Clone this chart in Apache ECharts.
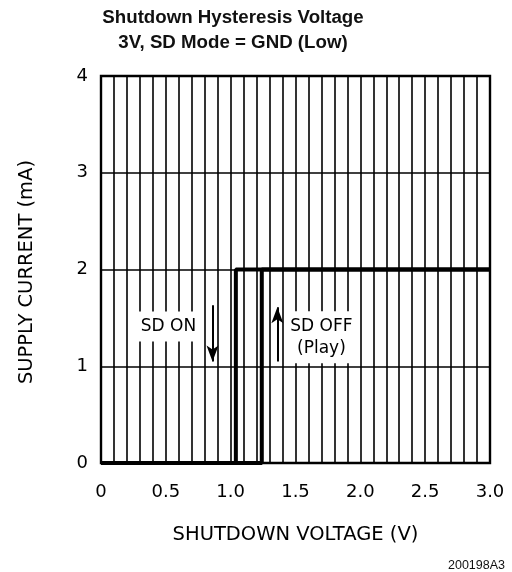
<!DOCTYPE html>
<html>
<head>
<meta charset="utf-8">
<script src="https://cdn.jsdelivr.net/npm/echarts@6/dist/echarts.min.js"></script>
<style>
  html, body { margin: 0; padding: 0; background: #fff; }
  #chart { width: 512px; height: 572px; }
</style>
</head>
<body>
<div id="chart"></div>
<script>
// supply current vs shutdown voltage (hysteresis loop)
var sdOnCurve  = [[3.0, 2], [1.04, 2], [1.04, 0], [0, 0]];     // falling voltage
var sdOffCurve = [[0, 0], [1.24, 0], [1.24, 2], [3.0, 2]];     // rising voltage
var downArrow = [[0.86, 1.63], [0.86, 1.05]];
var upArrow   = [[1.36, 1.05], [1.36, 1.61]];
var notes = [
  { name: 'SD ON', value: [0.52, 1.41] },
  { name: 'SD OFF\n(Play)', value: [1.7, 1.30] }
];
var xTicks = ['0', '0.5', '1.0', '1.5', '2.0', '2.5', '3.0'];
var yTicks = ['0', '1', '2', '3', '4'];

var labelFont = '"DejaVu Sans", sans-serif';
var labelWeight = 'normal';

var chartBox = document.getElementById('chart');
var myChart = echarts.init(chartBox);

var option = {
  animation: false,
  backgroundColor: '#fff',
  title: {
    text: 'Shutdown Hysteresis Voltage\n3V, SD Mode = GND (Low)',
    left: 228,
    top: 0,
    textAlign: 'center',
    textStyle: {
      fontFamily: '"Liberation Sans", Arial, sans-serif',
      fontWeight: 'bold',
      fontSize: 18.7,
      lineHeight: 25,
      color: '#111'
    }
  },
  grid: { left: 101, right: 22, top: 76, bottom: 109, containLabel: false },
  xAxis: {
    type: 'value',
    min: 0, max: 3, interval: 0.5,
    name: 'SHUTDOWN VOLTAGE (V)',
    nameLocation: 'middle',
    nameGap: 62,
    nameTextStyle: { fontFamily: labelFont, fontWeight: labelWeight, fontSize: 19.5, color: '#000' },
    axisLine: { show: false },
    axisTick: { show: false },
    axisLabel: {
      margin: 20,
      fontFamily: labelFont, fontWeight: labelWeight, fontSize: 18, color: '#000',
      formatter: function (v) { return xTicks[Math.round(v * 2)]; }
    },
    splitLine: { show: true, lineStyle: { color: '#000', width: 1.6 } },
    minorTick: { show: false, splitNumber: 5 },
    minorSplitLine: { show: true, lineStyle: { color: '#000', width: 1.6 } }
  },
  yAxis: {
    type: 'value',
    min: 0, max: 4, interval: 1,
    axisLine: { show: false },
    axisTick: { show: false },
    axisLabel: {
      margin: 13,
      fontFamily: labelFont, fontWeight: labelWeight, fontSize: 18, color: '#000',
      formatter: function (v) { return yTicks[v]; }
    },
    splitLine: { show: true, lineStyle: { color: '#000', width: 1.6 } }
  },
  graphic: [
    {
      type: 'rect', silent: true, z: 1,
      shape: { x: 101, y: 76, width: 389, height: 387 },
      style: { fill: 'none', stroke: '#000', lineWidth: 2.4 }
    },
    {
      type: 'text', silent: true,
      x: 27, y: 272, rotation: Math.PI / 2,
      style: {
        text: 'SUPPLY CURRENT (mA)',
        x: 0, y: 0,
        textAlign: 'center', textVerticalAlign: 'middle',
        fontFamily: labelFont, fontWeight: labelWeight, fontSize: 19.5, fill: '#000'
      }
    },
    {
      type: 'text', silent: true,
      style: {
        text: '200198A3',
        x: 505, y: 566,
        textAlign: 'right', textVerticalAlign: 'middle',
        fontFamily: '"Liberation Sans", Arial, sans-serif', fontSize: 12.5, fill: '#111'
      }
    }
  ],
  series: [
    {
      name: 'SD ON',
      type: 'line',
      data: sdOnCurve,
      symbol: 'none',
      z: 5,
      lineStyle: { color: '#000', width: 4 }
    },
    {
      name: 'SD OFF',
      type: 'line',
      data: sdOffCurve,
      symbol: 'none',
      z: 5,
      lineStyle: { color: '#000', width: 4 }
    },
    {
      name: 'notes',
      type: 'scatter',
      data: notes,
      symbolSize: 0,
      z: 6,
      itemStyle: { opacity: 1 },
      label: {
        show: true,
        position: 'inside',
        formatter: function (p) { return p.name; },
        fontFamily: labelFont, fontWeight: labelWeight, fontSize: 17, color: '#000',
        lineHeight: 22,
        backgroundColor: '#fff',
        padding: [4, 4]
      }
    },
    {
      name: 'arrows',
      type: 'line',
      data: [],
      markLine: {
        silent: true,
        symbol: ['none', 'arrow'],
        symbolSize: [9, 16],
        label: { show: false },
        lineStyle: { color: '#000', width: 2, type: 'solid', opacity: 1 },
        data: [
          [{ coord: downArrow[0] }, { coord: downArrow[1] }],
          [{ coord: upArrow[0] }, { coord: upArrow[1] }]
        ]
      }
    }
  ]
};

myChart.setOption(option);
</script>
</body>
</html>
